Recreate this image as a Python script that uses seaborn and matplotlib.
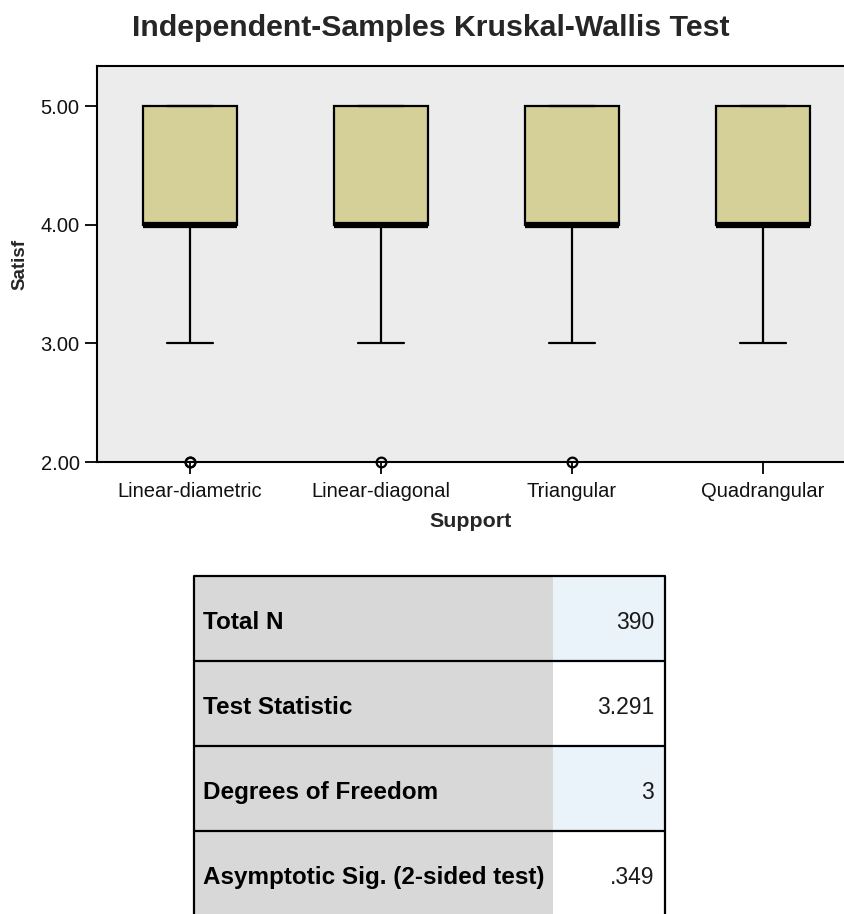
import numpy as np
import pandas as pd
import seaborn as sns
import matplotlib.pyplot as plt
from matplotlib.patches import Rectangle

# Support types and satisfaction scores (1-5 scale)
groups = ["Linear-diametric", "Linear-diagonal", "Triangular", "Quadrangular"]
satisf_levels = [2, 3, 4, 5]

# respondents per satisfaction level (2, 3, 4, 5) within each support type
counts_linear_diametric = [2, 12, 40, 44]
counts_linear_diagonal = [1, 10, 42, 44]
counts_triangular = [1, 9, 44, 44]
counts_quadrangular = [0, 10, 43, 44]

y_ticks = [2.0, 3.0, 4.0, 5.0]

# Kruskal-Wallis summary table
stat_labels = ["Total N", "Test Statistic", "Degrees of Freedom",
               "Asymptotic Sig. (2-sided test)"]
stat_values = ["390", "3.291", "3", ".349"]

group_counts = [counts_linear_diametric, counts_linear_diagonal,
                counts_triangular, counts_quadrangular]
rows = []
for g, cnts in zip(groups, group_counts):
    for lvl, n in zip(satisf_levels, cnts):
        rows.extend([(g, float(lvl))] * n)
df = pd.DataFrame(rows, columns=["Support", "Satisf"])

sns.set_style("white")
plt.rcParams["font.family"] = ["Liberation Sans", "DejaVu Sans"]

W, H = 844, 914
fig = plt.figure(figsize=(W / 100, H / 100), dpi=100)
fig.patch.set_facecolor("white")

ax_l, ax_r, ax_t, ax_b = 97, 844, 66, 462
ax = fig.add_axes([ax_l / W, 1 - ax_b / H, (ax_r - ax_l) / W, (ax_b - ax_t) / H])
ax.set_facecolor("#ececec")

box_color = "#d4d098"
sns.boxplot(
    data=df, x="Support", y="Satisf", order=groups, ax=ax,
    color=box_color, saturation=1, width=0.49,
    linecolor="black", linewidth=1.6,
    flierprops=dict(marker="o", markerfacecolor="none",
                    markeredgecolor="black", markeredgewidth=1.6,
                    markersize=7),
    medianprops=dict(color="black", linewidth=4.5),
)
for ln in ax.lines:
    ln.set_clip_on(False)

ax.set_xlim(-0.487, 3.424)
ax.set_ylim(2.0, 5.34)
ax.set_yticks(y_ticks)
ax.set_yticklabels([f"{v:.2f}" for v in y_ticks])

for side in ["left", "bottom", "top"]:
    ax.spines[side].set_visible(True)
    ax.spines[side].set_color("black")
    ax.spines[side].set_linewidth(1.5)
ax.spines["right"].set_visible(False)

ax.tick_params(axis="both", direction="out", length=8.5, width=1.3,
               color="black", labelsize=14.5, labelcolor="#111111", pad=4)
ax.tick_params(axis="x", pad=6)
ax.xaxis.set_ticks_position("bottom")
ax.yaxis.set_ticks_position("left")

ax.set_xlabel("Support", fontsize=15.4, fontweight="bold", labelpad=8)
ax.set_ylabel("Satisf", fontsize=13.5, fontweight="bold", labelpad=9)

fig.text(431 / W, 1 - 28 / H, "Independent-Samples Kruskal-Wallis Test",
         ha="center", va="center", fontsize=21.8, fontweight="bold")

# summary table drawn in pixel space
tab = fig.add_axes([0, 0, 1, 1])
tab.set_xlim(0, W)
tab.set_ylim(H, 0)
tab.axis("off")

x0, x_mid, x1 = 194, 553, 665
row_top, row_h = 576, 85
value_fills = ["#eaf2fa", "white", "#eaf2fa", "white"]
for i, (lab, val) in enumerate(zip(stat_labels, stat_values)):
    top = row_top + i * row_h
    tab.add_patch(Rectangle((x0, top), x_mid - x0, row_h,
                            facecolor="#d8d8d8", edgecolor="none"))
    tab.add_patch(Rectangle((x_mid, top), x1 - x_mid, row_h,
                            facecolor=value_fills[i], edgecolor="none"))
    tab.plot([x0, x1], [top, top], color="black", lw=1.6,
             solid_capstyle="butt")
    tab.text(x0 + 9, top + row_h / 2 + 4, lab, ha="left", va="center",
             fontsize=17.5, fontweight="bold", color="black")
    tab.text(x1 - 11, top + row_h / 2 + 4, val, ha="right", va="center",
             fontsize=16.5, color="#1a1a1a")
bottom = row_top + len(stat_labels) * row_h
tab.plot([x0, x0], [row_top, bottom], color="black", lw=1.6)
tab.plot([x1, x1], [row_top, bottom], color="black", lw=1.6)

fig.savefig("out.png", dpi=100, facecolor="white")
